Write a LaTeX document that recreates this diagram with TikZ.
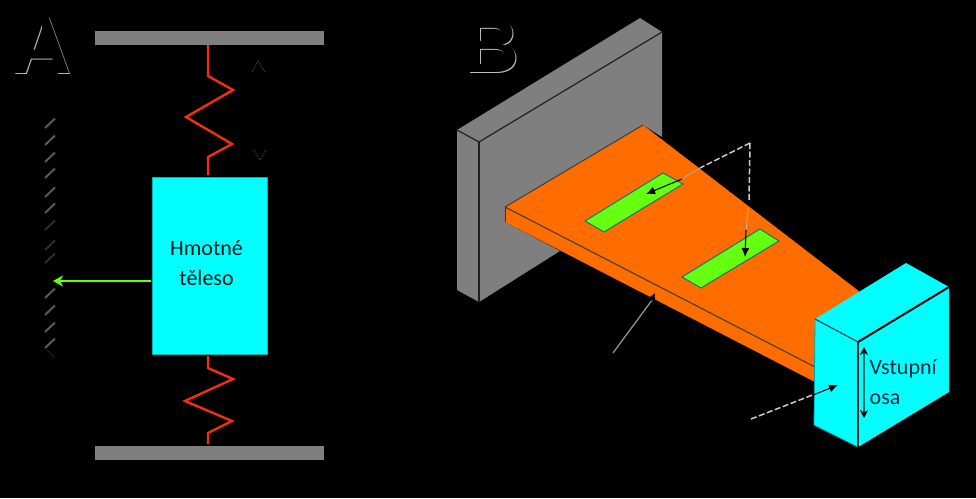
\documentclass[tikz,border=0pt]{standalone}
\usepackage{fontspec}
\setmainfont{Carlito}
\newfontfamily\letterfont{Liberation Sans}
\usetikzlibrary{arrows.meta}
\definecolor{barg}{HTML}{7F7F7F}
\definecolor{springred}{HTML}{F03010}
\definecolor{beamor}{HTML}{FF6C00}
\definecolor{stripg}{HTML}{66FF11}
\definecolor{cya}{HTML}{00FFFF}
\definecolor{navy}{HTML}{0A2A40}
\tikzset{
  barbox/.style={fill=barg,draw=none,minimum width=229pt,minimum height=14pt,inner sep=0pt},
  spring/.style={draw=springred,line width=2.4pt,line join=miter},
  hatch/.style={draw=black!65!white,line width=2pt},
  faint/.style={draw=black!80!white,line width=1pt},
  face/.style={draw=black!55!cya,line width=.9pt},
  leader/.style={draw=black!40!white,line width=1.2pt},
  leaderd/.style={draw=black!20!white,line width=1.5pt,dash pattern=on 6pt off 2.5pt},
  blackarrow/.style={draw=black,line width=1.1pt,-{Latex[length=9pt,width=8pt]}},
  lab/.style={font=\fontsize{22}{26}\selectfont,text=navy,inner sep=0pt,anchor=base west},
  bigl/.style={font=\letterfont\bfseries\fontsize{82}{82}\selectfont,inner sep=0pt,anchor=base west},
  bigb/.style={font=\letterfont\bfseries\fontsize{76}{76}\selectfont,inner sep=0pt,anchor=base west},
}
\begin{document}
\begin{tikzpicture}[x=1pt,y=-1pt]
\useasboundingbox[fill=black] (0,0) rectangle (976,498);
% panel letters
\node[bigl,text=white!70!black] at (13.6,74.6) {A};
\node[bigl,text=black] at (12,73) {A};
\node[bigb,text=white!75!black] at (465.6,73.6) {B};
\node[bigb,text=black] at (464,72) {B};
% panel A
\node[barbox] (topbar) at (209.5,38) {};
\node[barbox] (botbar) at (209.5,453) {};
\node[fill=cya,draw=black!30!cya,line width=.7pt,minimum width=115pt,minimum height=177pt,inner sep=0pt] (mass) at (209.5,265.5) {};
\node[font=\fontsize{22}{30}\selectfont,text=black!90!cya,inner sep=0pt,align=center] (masslabel) at (206.5,263) {Hmotné\\těleso};
\draw[spring] (208,45) -- (208,76) -- (233,90) -- (186,117) -- (232,144) -- (208,157) -- (208,175);
\draw[spring] (208,356) -- (208,368) -- (233,379) -- (185,401) -- (232,421) -- (208,433) -- (208,444);
\coordinate (scale) at (53,281);
\draw[draw=stripg,line width=2.4pt,-{Stealth[length=10pt,width=11pt,inset=3pt]}] (151,281) -- (scale);
\foreach \y in {128,145,162,178,197,213,298,315,332,348}
  \draw[hatch] (45,\y) -- (55,\y-9.5);
\foreach \y in {230,250,263}
  \draw[draw=black!80!white,line width=1.6pt] (45,\y) -- (55,\y-9.5);
\draw[draw=black!85!white,line width=1pt] (47,350) -- (55,358);
\draw[faint,dash pattern=on 2pt off 1pt] (252,72) -- (258,61) -- (265,72);
\draw[faint,dash pattern=on 2pt off 1pt] (254,150) -- (260,160) -- (266,150);
% panel B : wall
\fill[barg] (457,130) -- (640,18) -- (662,32) -- (662,137) -- (643,125) -- (505,207) -- (505,222) -- (560,251) -- (479,302) -- (457,290) -- cycle;
\draw[draw=black!75!barg,line width=1.2pt] (457,130) -- (479,142) -- (662,32);
\draw[draw=black!75!barg,line width=1.2pt] (479,142) -- (479,302);
% beam
\fill[beamor] (505,207) -- (643,125) -- (860,292) -- (815,382) -- (505,222) -- cycle;
\draw[draw=black!50!barg,line width=1pt] (505,207) -- (643,125);
\draw[draw=black!50!barg,line width=1.1pt] (505,207) -- (815,367);
\draw[draw=black!60!barg,line width=.9pt] (505,207) -- (505,222);
% strips
\draw[face,fill=stripg] (585,221) -- (663,173) -- (683,184) -- (604,232) -- cycle;
\draw[face,fill=stripg] (682,277) -- (760,229) -- (779,241) -- (701,288) -- cycle;
% sensor leaders
\coordinate (apex) at (750,143);
\coordinate (tipa) at (646,194);
\coordinate (tipb) at (745,257);
\draw[leaderd] (apex) -- (700,168);
\draw[draw=black!30!white,line width=.8pt] (700,168) -- (680,180);
\draw[blackarrow] (682,179) -- (tipa);
\draw[leaderd] (apex) -- (749,200);
\draw[draw=black!30!white,line width=.8pt] (748,208) -- (746,232);
\draw[blackarrow] (746,230) -- (tipb);
% beam leader
\coordinate (beamfoot) at (613,353);
\draw[leader] (beamfoot) -- (655,296);
\draw[draw=black,line width=.7pt,-{Latex[length=7pt,width=7pt]}] (651,301) -- (655,293);
% block
\fill[cya] (815,319) -- (906,263) -- (949,287) -- (949,392) -- (858,447) -- (814,425) -- cycle;
\draw[draw=black!70!cya,line width=1.2pt] (815,319) -- (858,342);
\draw[draw=black!35!cya,line width=.8pt] (815,319) -- (814,425) -- (858,447);
\draw[draw=black,line width=2pt] (949,287) -- (858,342);
\draw[draw=black!85!cya,line width=2.2pt] (858,342) -- (858,447);
\coordinate (blockpt) at (838,385);
\draw[leaderd] (751,419) -- (815,394);
\draw[blackarrow] (813,395) -- (blockpt);
\coordinate (axt) at (864,347);
\coordinate (axb) at (864,418);
\draw[draw=black!60!cya,line width=1.2pt,{Stealth[length=8pt,width=8pt,black]}-{Stealth[length=8pt,width=8pt,black]}] (axt) -- (axb);
\node[lab] (inlab) at (869.5,374) {Vstupní};
\node[lab] (oslab) at (869.5,404) {osa};
\end{tikzpicture}
\end{document}
